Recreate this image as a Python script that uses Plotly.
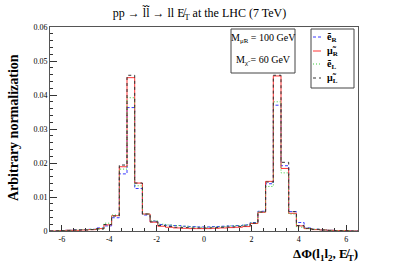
import numpy as np
import plotly.graph_objects as go

# ---- data ----
bin_edges = np.linspace(-6.5, 6.5, 41)

e_R = [0, 0.0001, 0.0002, 0.0003, 0.0004, 0.0005, 0.0009, 0.0015, 0.0039, 0.0168,
       0.0363, 0.0125, 0.0047, 0.0029, 0.0019, 0.0017, 0.0016, 0.0014, 0.0013, 0.0012,
       0.0012, 0.0013, 0.0014, 0.0015, 0.0016, 0.0018, 0.0025, 0.0058, 0.0139, 0.0370,
       0.0192, 0.0057, 0.0025, 0.0009, 0.0005, 0.0003, 0.0002, 0.0001, 0.0001, 0]
mu_R = [0, 0.0001, 0.0002, 0.0002, 0.0003, 0.0004, 0.0007, 0.0018, 0.0045, 0.0189,
        0.0451, 0.0141, 0.0050, 0.0026, 0.0014, 0.0011, 0.0009, 0.0008, 0.0007, 0.0007,
        0.0007, 0.0008, 0.0009, 0.0010, 0.0011, 0.0013, 0.0022, 0.0055, 0.0146, 0.0456,
        0.0184, 0.0052, 0.0015, 0.0007, 0.0004, 0.0003, 0.0002, 0.0001, 0.0001, 0]
e_L = [0, 0.0001, 0.0002, 0.0003, 0.0004, 0.0005, 0.0006, 0.0023, 0.0047, 0.0182,
       0.0392, 0.0133, 0.0050, 0.0030, 0.0020, 0.0018, 0.0016, 0.0014, 0.0012, 0.0011,
       0.0011, 0.0012, 0.0013, 0.0015, 0.0016, 0.0018, 0.0024, 0.0056, 0.0131, 0.0380,
       0.0171, 0.0050, 0.0011, 0.0007, 0.0005, 0.0003, 0.0002, 0.0001, 0.0001, 0]
mu_L = [0, 0.0001, 0.0002, 0.0003, 0.0003, 0.0004, 0.0006, 0.0019, 0.0044, 0.0194,
        0.0458, 0.0141, 0.0050, 0.0027, 0.0016, 0.0013, 0.0011, 0.0010, 0.0009, 0.0009,
        0.0009, 0.0010, 0.0011, 0.0012, 0.0013, 0.0015, 0.0023, 0.0056, 0.0144, 0.0458,
        0.0202, 0.0057, 0.0016, 0.0008, 0.0005, 0.0003, 0.0002, 0.0001, 0.0001, 0]

x_tickvals = [-6, -4, -2, 0, 2, 4, 6]
x_ticktext = ["-6", "-4", "-2", "0", "2", "4", "6"]
y_tickvals = [0, 0.01, 0.02, 0.03, 0.04, 0.05, 0.06]
y_ticktext = ["0", "0.01", "0.02", "0.03", "0.04", "0.05", "0.06"]

series = [
    ("ẽ<sub>R</sub>", e_R, "#3a3aff", "3px,2px"),
    ("μ̃<sub>R</sub>", mu_R, "#ff3535", "solid"),
    ("ẽ<sub>L</sub>", e_L, "#3ccc3c", "1px,2px"),
    ("μ̃<sub>L</sub>", mu_L, "#333333", "3px,3px"),
]

SERIF = "Liberation Serif, Times New Roman, serif"

fig = go.Figure()
for name, vals, col, dash in series:
    fig.add_trace(go.Scatter(
        x=bin_edges, y=list(vals) + [vals[-1]], mode="lines",
        line=dict(shape="hv", color=col, width=1, dash=dash),
        name=name, showlegend=False, hoverinfo="skip"))

L, R, T, B = 50, 41, 27, 39
W, H = 399, 270
pw, ph = W - L - R, H - T - B

def px(xp):
    return (xp - L) / pw

def py(yp):
    return (H - B - yp) / ph

shapes = []
annotations = []

def note(x, y, text, size, xanchor="center", **kw):
    annotations.append(dict(xref="paper", yref="paper", x=x, y=y, text=text,
                            xanchor=xanchor, yanchor="middle", showarrow=False,
                            font=dict(family=SERIF, size=size, color="black"), **kw))

# text box
shapes.append(dict(type="rect", xref="paper", yref="paper",
                   x0=px(231), x1=px(295), y0=py(73), y1=py(29),
                   line=dict(color="#444", width=1), fillcolor="white"))
note(px(263), py(38), "M<sub>μ̃R</sub> = 100 GeV", 10)
note(px(263), py(61), "M<sub>χ̃</sub> = 60 GeV", 10)

# legend box
shapes.append(dict(type="rect", xref="paper", yref="paper",
                   x0=px(311), x1=px(354), y0=py(88), y1=py(29),
                   line=dict(color="#444", width=1), fillcolor="white"))
leg_y = [37, 51, 64, 78]
for (name, vals, col, dash), ly in zip(series, leg_y):
    shapes.append(dict(type="line", xref="paper", yref="paper",
                       x0=px(313), x1=px(321), y0=py(ly), y1=py(ly),
                       line=dict(color=col, width=1, dash=dash)))
    note(px(325), py(ly), "<b>" + name + "</b>", 10, xanchor="left")

# axis titles
note(px(13), py(128), "<b>Arbitrary normalization</b>", 14, textangle=-90)
note(px(360), py(254), "<b>ΔΦ(l<sub>1</sub>l<sub>2</sub>, E̸<sub>T</sub>)</b>", 13,
     xanchor="right")

fig.update_layout(
    width=W, height=H,
    margin=dict(l=L, r=R, t=T, b=B),
    paper_bgcolor="white", plot_bgcolor="white",
    title=dict(text="pp → l̃l̃ → ll E̸<sub>T</sub> at the LHC (7 TeV)",
               x=0.5, xref="container", y=1 - 13 / H, yref="container",
               xanchor="center", yanchor="middle",
               font=dict(family=SERIF, size=12, color="black")),
    shapes=shapes, annotations=annotations,
    showlegend=False,
)
fig.update_xaxes(range=[-6.5, 6.5], tickvals=x_tickvals, ticktext=x_ticktext,
                 ticks="inside", ticklen=6, tickcolor="#333",
                 showgrid=False, zeroline=False, showline=True, linecolor="#555",
                 mirror=True, linewidth=1,
                 tickfont=dict(family=SERIF, size=8, color="black"),
                 minor=dict(dtick=0.5, ticklen=3, ticks="inside", tickcolor="#333",
                            showgrid=False))
fig.update_yaxes(range=[0, 0.06], tickvals=y_tickvals, ticktext=y_ticktext,
                 ticks="inside", ticklen=7, tickcolor="#333",
                 showgrid=False, zeroline=False, showline=True, linecolor="#555",
                 mirror=True, linewidth=1,
                 tickfont=dict(family=SERIF, size=8, color="black"),
                 minor=dict(dtick=0.002, ticklen=3, ticks="inside", tickcolor="#333",
                            showgrid=False))

fig.write_html("out.html", config={"displayModeBar": False},
               post_script="document.body.style.margin='0';")
